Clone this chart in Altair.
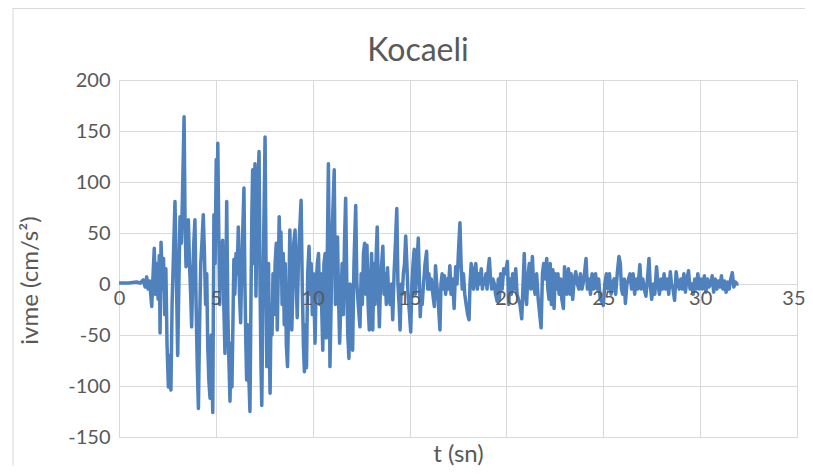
import altair as alt
import pandas as pd

# time (s)
T = [0, 0.5, 0.9, 1.1, 1.25, 1.35, 1.43, 1.5, 1.58, 1.69, 1.76, 1.82, 1.88, 1.95, 2.02, 2.08, 2.12, 2.17, 2.25, 2.3,
     2.36, 2.42, 2.48, 2.55, 2.6, 2.68, 2.74, 2.8, 2.89, 2.96, 3.03, 3.09, 3.15, 3.22, 3.28, 3.36, 3.41, 3.46, 3.52, 3.58,
     3.64, 3.7, 3.75, 3.8, 3.86, 3.92, 3.98, 4.04, 4.10, 4.16, 4.22, 4.28, 4.35, 4.41, 4.47, 4.53, 4.58, 4.64, 4.70, 4.76,
     4.84, 4.90, 4.96, 5.02, 5.06, 5.10, 5.15, 5.2, 5.25, 5.30, 5.35, 5.41, 5.47, 5.52, 5.56, 5.62, 5.68, 5.73, 5.78, 5.83,
     5.88, 5.93, 5.98, 6.04, 6.10, 6.16, 6.22, 6.28, 6.34, 6.40, 6.45, 6.50, 6.55, 6.59, 6.64, 6.70, 6.76, 6.82, 6.86, 6.90,
     6.95, 7.02, 7.07, 7.12, 7.18, 7.23, 7.28, 7.33, 7.37, 7.42, 7.48, 7.54, 7.59, 7.63, 7.68, 7.72, 7.76, 7.80, 7.85, 7.9,
     7.95, 8.0, 8.06, 8.12, 8.17, 8.22, 8.27, 8.31, 8.36, 8.42, 8.48, 8.53, 8.58, 8.64, 8.7, 8.76, 8.82, 8.87, 8.92, 8.97,
     9.02, 9.09, 9.14, 9.2, 9.26, 9.32, 9.40, 9.46, 9.52, 9.57, 9.63, 9.68, 9.74, 9.81, 9.87, 9.92, 9.98, 10.04, 10.12, 10.18,
     10.24, 10.30, 10.36, 10.42, 10.52, 10.58, 10.64, 10.70, 10.76, 10.81, 10.86, 10.89, 10.95, 11.02, 11.11, 11.17, 11.22, 11.28, 11.33, 11.39,
     11.45, 11.52, 11.58, 11.64, 11.70, 11.76, 11.81, 11.87, 11.93, 12.0, 12.06, 12.13, 12.22, 12.28, 12.35, 12.44, 12.5, 12.56, 12.62, 12.68,
     12.74, 12.80, 12.86, 12.92, 12.98, 13.04, 13.10, 13.16, 13.22, 13.28, 13.33, 13.38, 13.44, 13.50, 13.56, 13.62, 13.68, 13.74, 13.80, 13.86,
     13.92, 14.0, 14.07, 14.13, 14.2, 14.27, 14.34, 14.40, 14.46, 14.51, 14.57, 14.62, 14.68, 14.74, 14.80, 14.86, 14.92, 15.0, 15.06, 15.12,
     15.18, 15.24, 15.30, 15.36, 15.45, 15.5, 15.55, 15.6, 15.65, 15.72, 15.80, 15.88, 15.94, 16.0, 16.06, 16.12, 16.2, 16.28, 16.34, 16.40,
     16.46, 16.52, 16.57, 16.62, 16.68, 16.74, 16.80, 16.86, 16.94, 17.0, 17.08, 17.14, 17.22, 17.30, 17.38, 17.45, 17.52, 17.60, 17.66, 17.72,
     17.78, 17.85, 17.92, 18.0, 18.07, 18.12, 18.18, 18.24, 18.30, 18.36, 18.42, 18.50, 18.56, 18.62, 18.70, 18.76, 18.82, 18.88, 18.94, 19.0,
     19.06, 19.12, 19.18, 19.24, 19.30, 19.38, 19.44, 19.52, 19.58, 19.64, 19.70, 19.78, 19.86, 19.94, 20.05, 20.12, 20.18, 20.26, 20.32, 20.40,
     20.48, 20.55, 20.62, 20.70, 20.79, 20.86, 20.92, 20.98, 21.04, 21.10, 21.18, 21.26, 21.34, 21.40, 21.48, 21.56, 21.64, 21.72, 21.79, 21.86,
     21.92, 22.0, 22.08, 22.14, 22.20, 22.26, 22.32, 22.40, 22.46, 22.52, 22.6, 22.66, 22.72, 22.80, 22.86, 22.94, 23.0, 23.06, 23.12, 23.2,
     23.28, 23.34, 23.42, 23.5, 23.58, 23.66, 23.74, 23.82, 23.90, 24.0, 24.11, 24.18, 24.26, 24.34, 24.42, 24.5, 24.6, 24.68, 24.76, 24.84,
     24.92, 25.0, 25.08, 25.16, 25.24, 25.32, 25.4, 25.48, 25.56, 25.64, 25.72, 25.81, 25.88, 25.94, 26.0, 26.08, 26.14, 26.22, 26.30, 26.38,
     26.46, 26.54, 26.62, 26.70, 26.78, 26.89, 26.96, 27.04, 27.12, 27.2, 27.28, 27.36, 27.42, 27.5, 27.58, 27.66, 27.75, 27.82, 27.90, 27.98,
     28.06, 28.14, 28.22, 28.30, 28.38, 28.46, 28.52, 28.60, 28.68, 28.76, 28.84, 28.92, 29.0, 29.08, 29.16, 29.24, 29.32, 29.40, 29.48, 29.56,
     29.64, 29.72, 29.80, 29.88, 29.96, 30.04, 30.12, 30.22, 30.30, 30.38, 30.46, 30.54, 30.62, 30.70, 30.78, 30.86, 30.94, 31.02, 31.10, 31.18,
     31.26, 31.34, 31.42, 31.50, 31.58, 31.66, 31.74, 31.82, 31.9, 31.98]

# acceleration (cm/s^2)
A = [1, 1, 2, 1, 4, -3, 7, -5, 3, -22, 10, 35, -10, 20, -15, 28, -48, 41, -5, 25,
     -30, 15, -60, -101, -70, -104, -20, 20, 81, 10, -70, 0, 66, 40, 90, 164, 60, 17, 50, 63,
     20, -10, -42, 0, 40, 63, -20, -80, -122, -40, 20, 40, 68, 30, -20, 10, -60, -95, -112, -50,
     -126, 68, 20, 122, 60, 138, 50, -20, 40, 10, 43, -20, -68, 0, 81, -30, -80, -115, -58, -101,
     -40, 24, -10, 30, 10, 56, -10, -38, 20, 60, 94, 0, -60, -94, -40, -90, -125, 0, 70, 112,
     20, 118, -12, 60, 100, 130, 0, -80, -119, -30, 60, 144, 20, -81, -20, 20, -60, -107, -20, -50,
     10, -30, 20, 40, -45, 10, 66, 30, 51, -20, 30, -40, 20, -60, -81, -20, 53, 0, -45, -10,
     40, 53, 10, -33, 20, 50, 82, 0, -60, -86, -40, -82, 10, 37, -10, 20, -30, 10, -58, 0,
     20, 30, -20, 10, -65, 20, 30, -53, 40, 118, 0, -81, -20, 60, 112, -20, 20, 46, -10, -58,
     -20, 20, -30, 40, 84, 0, -50, -73, 0, -20, -65, 20, 77, 0, -20, -42, 10, -20, 30, 40,
     -10, 38, -20, -45, 0, 30, -45, 20, -20, 30, 56, 0, -42, 0, 20, 37, -10, 10, -20, 16,
     -10, -20, 0, -35, 10, 40, 74, 0, -20, -45, 0, -10, 10, 20, 47, 20, -10, -30, -47, 0,
     20, 34, -10, 10, 45, 10, -32, -10, -20, 0, 20, 32, -5, 10, -5, 5, -10, -22, 18, 0,
     -10, -30, -45, 0, 10, -5, 8, -10, 5, -5, 18, -10, 5, -24, 17, 0, 30, 60, 20, -5,
     10, -10, -20, -30, -35, 0, 20, 0, -5, 15, 20, -5, 10, 0, 15, -5, 5, 0, 10, -5,
     15, 25, 5, -5, 5, 0, -10, -17, 5, -15, 10, -5, 15, 10, 22, -20, 5, -10, 10, -5,
     15, -10, -15, -20, -34, 0, 30, -10, -20, 5, 20, -5, 27, 0, -10, 10, -15, -30, -43, 10,
     20, 5, 25, -5, -15, 20, -20, 14, -24, 10, -5, 10, -10, 5, -15, -24, 17, -5, -10, 15,
     -10, 10, -15, 5, 12, 0, -5, 10, -5, 5, 25, -5, 5, -10, 10, -5, 10, -5, 5, -15,
     -17, -21, 0, 10, -5, 10, -10, 0, 5, -10, 10, 27, 20, -5, -10, 5, -19, 0, 5, 10,
     -5, 10, -10, 5, -5, 19, -5, 5, -5, -12, 5, 25, 0, -15, 0, -10, 17, 0, -10, 5,
     -5, 10, -5, 5, -10, 12, 0, -5, -16, 12, 0, -5, 5, -5, 10, -8, 5, 13, -5, 0,
     -10, 5, -5, 10, -5, 5, -5, 8, -8, 5, -3, 0, 8, -8, 5, -5, 3, -3, 8, -5,
     3, -8, 2, -5, 5, 11, -3, 2, 0, 0]

X_TICKS = [0, 5, 10, 15, 20, 25, 30, 35]
Y_TICKS = [-150, -100, -50, 0, 50, 100, 150, 200]
TITLE = "Kocaeli"

df = pd.DataFrame({"t": T, "a": A})
ticks_df = pd.DataFrame({"t": X_TICKS})

FONT = "Lato"
TXT = "#595959"
GRID = "#d9d9d9"
XSCALE = alt.Scale(domain=[0, 35], nice=False, zero=False)
MINUS = "replace(datum.label, '\u2212', '-')"

line = alt.Chart(df).mark_line(color="#4F81BD", strokeWidth=3.5, strokeJoin="round").encode(
    x=alt.X("t:Q", scale=XSCALE,
            axis=alt.Axis(values=X_TICKS, title="t (sn)", orient="bottom", ticks=False, labels=False,
                          domain=False, grid=True, gridColor=GRID,
                          titleFontSize=24, titleFont=FONT, titleColor=TXT, titleFontWeight="normal",
                          titleY=24, titleBaseline="alphabetic")),
    y=alt.Y("a:Q", scale=alt.Scale(domain=[-150, 200], nice=False, zero=False),
            axis=alt.Axis(values=Y_TICKS, title="ivme (cm/s²)", ticks=False, domain=False,
                          grid=True, gridColor=GRID, labelPadding=9, labelExpr=MINUS,
                          labelFontSize=20, labelFont=FONT, labelColor=TXT,
                          titleFontSize=24, titleFont=FONT, titleColor=TXT, titleFontWeight="normal",
                          titleX=-89, titleY=200, titleAngle=-90, titleBaseline="middle",
                          titleAlign="center")),
)

xlabels = alt.Chart(ticks_df).mark_point(opacity=0).encode(
    x=alt.X("t:Q", scale=XSCALE,
            axis=alt.Axis(values=X_TICKS, title=None, orient="bottom", ticks=False, domain=False,
                          grid=False, offset=-153, zindex=1, labelFlush=False, labelPadding=4,
                          labelAlign={"condition": {"test": "datum.value == 35", "value": "right"},
                                      "value": "center"},
                          labelOffset={"condition": {"test": "datum.value == 35", "value": 8},
                                       "value": 0},
                          labelFontSize=20, labelFont=FONT, labelColor=TXT)),
)

border_left = alt.Chart(alt.Data(values=[{}])).mark_rule(color=GRID, strokeWidth=1).encode(
    x=alt.value(-106), y=alt.value(-72), y2=alt.value(440))
border_top = alt.Chart(alt.Data(values=[{}])).mark_rule(color=GRID, strokeWidth=1).encode(
    x=alt.value(-106), x2=alt.value(700), y=alt.value(-71.5))

title = alt.Chart(alt.Data(values=[{}])).mark_text(
    font=FONT, fontSize=32, color=TXT, align="center", baseline="alphabetic"
).encode(x=alt.value(299), y=alt.value(-19), text=alt.value(TITLE))

chart = alt.layer(border_left, border_top, title, line, xlabels).resolve_axis(
    x="independent"
).properties(
    width=678, height=357,
    autosize=alt.AutoSizeParams(type="none"),
    padding={"left": 111, "top": 72, "right": 8, "bottom": 29},
).configure_view(strokeWidth=0).configure(background="white")

chart.save("out.html", embed_options={"renderer": "svg", "actions": False})
